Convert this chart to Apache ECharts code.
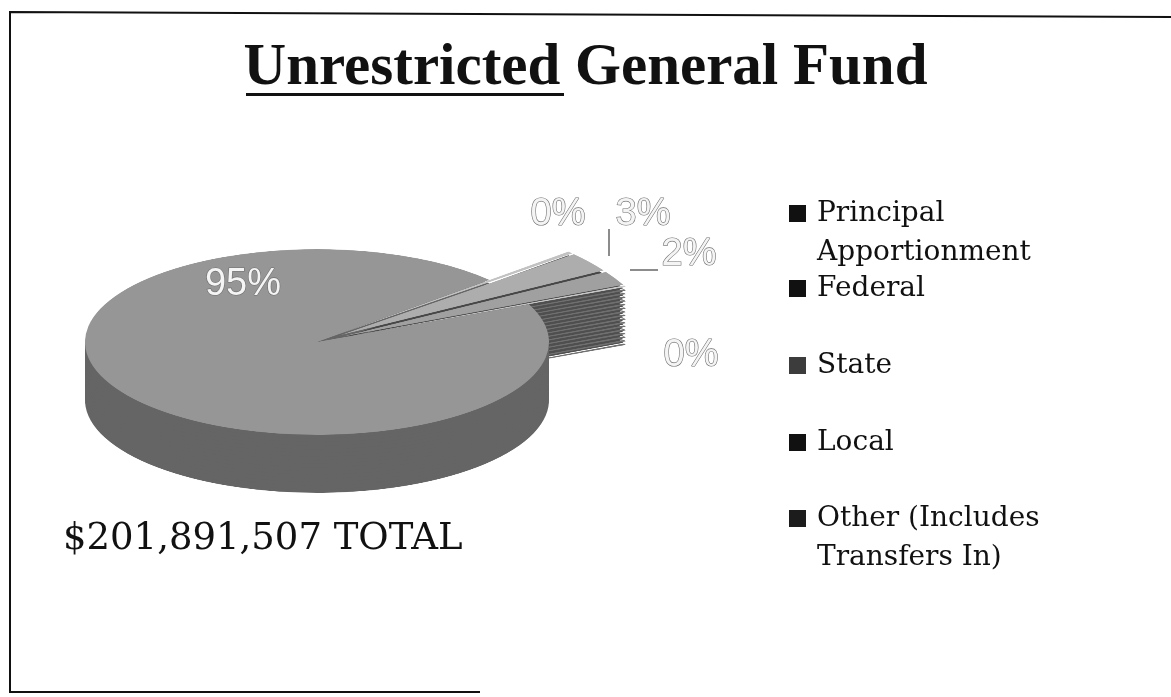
<!DOCTYPE html>
<html>
<head>
<meta charset="utf-8">
<script src="https://cdn.jsdelivr.net/npm/echarts@6/dist/echarts.min.js"></script>
<style>
html, body { margin: 0; padding: 0; background: #fff; }
#wrap { position: relative; width: 1171px; height: 697px; overflow: hidden; }
/* the pie is drawn flat, then squashed to look tilted */
#pie { position: absolute; left: 0; top: 246px; width: 700px; height: 700px; transform: scaleY(0.4); transform-origin: 0 0; }
#main { position: absolute; left: 0; top: 0; width: 1171px; height: 697px; }
</style>
</head>
<body>
<div id="wrap"><div id="pie"></div><div id="main"></div></div>
<script>
var names = ['Principal Apportionment', 'Federal', 'State', 'Local', 'Other (Includes Transfers In)'];
var legendText = ['Principal\nApportionment', 'Federal', 'State', 'Local', 'Other (Includes\nTransfers In)'];
var shares = [95.0, 0.3, 2.6, 1.9, 0.2];
var totalText = '$201,891,507 TOTAL';

var topColors = ['#969696', '#c2c2c2', '#adadad', '#a0a0a0', '#c8c8c8'];
var sideColors = ['#656565', '#6a6a6a', '#474747', '#4f4f4f', '#707070'];
var legendColors = ['#111', '#111', '#3c3c3c', '#111', '#1c1c1c'];
var NONE = 'rgba(0,0,0,0)';

// label spots on the page (styling only)
var labelPos = [[243, 285], [558, 215], [643, 215], [689, 255], [691, 356]];
var legendTops = [155, 269, 346, 423, 460];

var sum = shares.reduce(function (a, b) { return a + b; }, 0);

// ---- tilted pie ----
var pieChart = echarts.init(document.getElementById('pie'));
var cx = 317, cy = 240, depth = 145, layers = 16;

// big slice and the small pulled-out slices share angles, drawn at two radii
function pieSeries(offset, colors, bigPart) {
    return {
        type: 'pie',
        center: [cx, cy + offset],
        radius: bigPart ? 232 : 308,
        startAngle: 24,
        selectedMode: 'multiple',
        selectedOffset: 30,
        silent: true,
        label: { show: false },
        labelLine: { show: false },
        itemStyle: { borderWidth: 0 },
        emphasis: { disabled: true },
        data: names.map(function (n, i) {
            var show = bigPart ? i === 0 : i > 0;
            return { name: n, value: shares[i], selected: i > 0, itemStyle: { color: show ? colors[i] : NONE } };
        })
    };
}

var pieList = [];
for (var k = layers; k >= 1; k--) {
    pieList.push(pieSeries(depth * k / layers, sideColors, true));
    pieList.push(pieSeries(depth * k / layers, sideColors, false));
}
pieList.push(pieSeries(0, topColors, true));
pieList.push(pieSeries(0, topColors, false));

pieChart.setOption({ animation: false, series: pieList });

// ---- title, legend, labels ----
var myChart = echarts.init(document.getElementById('main'));

var graphics = [
    {
        type: 'polyline',
        shape: { points: [[1171, 17], [10, 12], [10, 692], [480, 692]] },
        style: { stroke: '#111', lineWidth: 2, fill: null }
    },
    {
        type: 'text', left: 'center', top: 39,
        style: { text: 'Unrestricted General Fund', font: 'bold 59px "Liberation Serif"', fill: '#111' }
    },
    { type: 'rect', shape: { x: 246, y: 93, width: 318, height: 3 }, style: { fill: '#111' } },
    {
        type: 'text', left: 63, top: 521,
        style: { text: totalText, font: '37px "DejaVu Serif"', fill: '#111' }
    },
    { type: 'line', shape: { x1: 609, y1: 229, x2: 609, y2: 256 }, style: { stroke: '#666', lineWidth: 1.5 } },
    { type: 'line', shape: { x1: 630, y1: 270, x2: 658, y2: 270 }, style: { stroke: '#666', lineWidth: 1.5 } }
];

shares.forEach(function (v, i) {
    graphics.push({
        type: 'text',
        x: labelPos[i][0], y: labelPos[i][1],
        style: {
            text: Math.round(v / sum * 100) + '%',
            font: '38px "Liberation Sans"',
            fill: '#f4f4f4', stroke: '#6e6e6e', lineWidth: 1.2,
            align: 'center', verticalAlign: 'middle'
        }
    });
});

option = {
    animation: false,
    legend: names.map(function (n, i) {
        var multi = legendText[i].indexOf('\n') >= 0;
        return {
            data: [n],
            orient: 'vertical',
            left: 789,
            top: legendTops[i],
            padding: 0,
            icon: 'rect',
            itemWidth: 17,
            itemHeight: 17,
            selectedMode: false,
            // empty first line keeps the square beside the first text line
            formatter: function () { return multi ? '\n' + legendText[i] : legendText[i]; },
            textStyle: {
                fontFamily: 'DejaVu Serif',
                fontSize: 28,
                color: '#111',
                lineHeight: 39,
                padding: [0, 0, 0, 6]
            }
        };
    }),
    series: [{
        type: 'pie',
        radius: 0,
        center: [-50, -50],
        silent: true,
        label: { show: false },
        data: names.map(function (n, i) {
            return { name: n, value: shares[i], itemStyle: { color: legendColors[i] } };
        })
    }],
    graphic: graphics
};
myChart.setOption(option);
</script>
</body>
</html>
